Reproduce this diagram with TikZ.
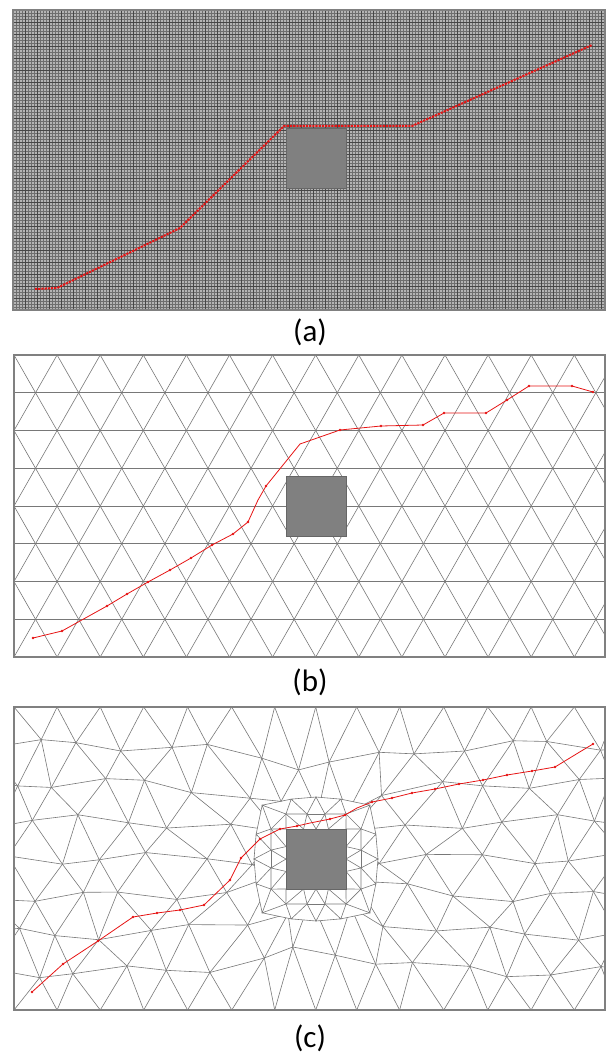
\documentclass[tikz,border=0pt]{standalone}
\usepackage{fontspec}
\newfontfamily\capfont{Carlito}
\usepackage{tikz}
\usetikzlibrary{positioning}

\definecolor{meshgray}{RGB}{120,120,120}
\definecolor{framegray}{RGB}{128,128,128}
\definecolor{obsgray}{RGB}{128,128,128}
\definecolor{gridbase}{RGB}{180,180,180}
\definecolor{gridfine}{RGB}{110,110,110}
\definecolor{gridcoarse}{RGB}{70,70,70}
\definecolor{pathred}{RGB}{230,20,20}

\begin{document}
\begin{tikzpicture}[x=1pt, y=-1pt,
    meshline/.style={draw=meshgray, line width=0.6pt},
    framebox/.style={draw=framegray, line width=2.5pt},
    finegrid/.style={draw=gridfine, line width=0.6pt},
    coarsegrid/.style={draw=gridcoarse, line width=0.5pt},
    obstacle/.style={rectangle, fill=obsgray, draw=obsgray!80!black, line width=0.5pt, inner sep=0pt, minimum width=60pt, minimum height=60pt},
    pathline/.style={draw=pathred, line width=0.8pt, line join=round},
    caption/.style={font=\capfont\fontsize{31}{36}\selectfont, inner sep=0pt}]

    \useasboundingbox (0,0) rectangle (609,1064);

    % Panel (a): dense structured grid
    \begin{scope}
        \fill[gridbase] (13,10) rectangle (605,310);
        \foreach \x in {13,16,...,604} \draw[finegrid] (\x,10) -- (\x,310);
        \foreach \y in {10,13,...,310} \draw[finegrid] (13,\y) -- (605,\y);
        \foreach \x in {25,37,...,604} \draw[coarsegrid] (\x,10) -- (\x,310);
        \foreach \y in {22,34,...,310} \draw[coarsegrid] (13,\y) -- (605,\y);
        \draw[framebox] (13,10) rectangle (605,310);

        \node[obstacle] (obsa) at (316,158) {};

        % grid path
        \draw[pathred, line width=2pt, dash pattern=on 2.2pt off 1pt]
            (35,289) -- (57,288) -- (180,228) -- (284,126) -- (412,126) -- (592,45);

        \node[caption] (capa) at (310,332) {(a)};
    \end{scope}

    % Panel (b): regular triangular mesh
    \begin{scope}
        \begin{scope}
            \clip (14,355) rectangle (605,657);
            \foreach \j in {1,...,7} \draw[meshline] (14,355+37.75*\j) -- (605,355+37.75*\j);
            \foreach \k in {-4,...,18} {
                \draw[meshline] (14+43.1*\k,355) -- ++(172.4,302);
                \draw[meshline] (14+43.1*\k,355) -- ++(-172.4,302);
            }
        \end{scope}
        \draw[framebox] (14,355) rectangle (605,657);

        \node[obstacle] (obsb) at (316,506) {};

        % mesh path
        \draw[pathline] (33,638) -- (62,631) -- (107,606) -- (127,594) -- (148,582)
            -- (170,570) -- (191,558) -- (212,545) -- (233,534) -- (248,522)
            -- (258,500) -- (266,486) -- (300,444) -- (340,430) -- (381,426)
            -- (423,425) -- (444,413) -- (486,413) -- (507,400) -- (529,386)
            -- (572,386) -- (593,392);
        \foreach \p in {(33,638),(62,631),(107,606),(127,594),(148,582),(170,570),(191,558),(212,545),(233,534),(248,522),(266,486),(340,430),(381,426),(423,425),(444,413),(486,413),(507,400),(529,386),(572,386),(593,392)}
            \fill[pathred] \p circle (1.3pt);

        \node[caption] (capb) at (310,682) {(b)};
    \end{scope}

    % Panel (c): mesh refined around the obstacle
    \begin{scope}
        % mesh points, pulled towards the obstacle
        \foreach \j in {0,...,8} {
            \foreach \i in {-1,...,14} {
                \pgfmathsetmacro\xo{14+43.1*(\i+0.5*mod(\j,2))}
                \pgfmathsetmacro\yo{707+37.875*\j}
                \pgfmathsetmacro\dx{(\xo-316)/95}
                \pgfmathsetmacro\dy{(\yo-859)/95}
                \pgfmathsetmacro\e{0.75*exp(-(\dx*\dx+\dy*\dy))}
                \pgfmathsetmacro\jx{((\j==0)||(\j==8)) ? 0 : 6*sin(137*\i+71*\j)}
                \pgfmathsetmacro\jy{((\j==0)||(\j==8)) ? 0 : 6*cos(97*\i+151*\j)}
                \pgfmathsetmacro\xn{\xo-95*\dx*\e+\jx}
                \pgfmathsetmacro\yn{((\j==0)||(\j==8)) ? \yo : \yo-95*\dy*\e+\jy}
                \coordinate (m-\i-\j) at (\xn,\yn);
            }
        }
        % refined rings round the obstacle
        \foreach \k in {0,...,15} {
            \pgfmathsetmacro\ang{22.5*\k}
            \pgfmathsetmacro\nrm{max(abs(cos(\ang)),abs(sin(\ang)))}
            \coordinate (r0-\k) at ({316+30*cos(\ang)/\nrm},{859+30*sin(\ang)/\nrm});
            \pgfmathsetmacro\angb{22.5*\k+11.25}
            \pgfmathsetmacro\nrmb{max(abs(cos(\angb)),abs(sin(\angb)))}
            \coordinate (r1-\k) at ({316+45*cos(\angb)/\nrmb},{859+45*sin(\angb)/\nrmb});
            \pgfmathsetmacro\rad{62*(0.45+0.55/\nrm)}
            \coordinate (r2-\k) at ({316+\rad*cos(\ang)},{859+\rad*sin(\ang)});
        }
        \begin{scope}
            \clip (14,707) rectangle (605,1010);
            \begin{scope}[even odd rule]
                \clip (14,707) rectangle (605,1010)
                    (r2-0) \foreach \k in {1,...,15} { -- (r2-\k) } -- cycle;
                \foreach \j in {0,...,8} {
                    \foreach \i in {-1,...,13} {
                        \pgfmathtruncatemacro\inext{\i+1}
                        \draw[meshline] (m-\i-\j) -- (m-\inext-\j);
                    }
                }
                \foreach \j in {0,...,7} {
                    \pgfmathtruncatemacro\jnext{\j+1}
                    \foreach \i in {-1,...,14} {
                        \pgfmathtruncatemacro\ia{\i-1+mod(\j,2)}
                        \pgfmathtruncatemacro\ib{\i+mod(\j,2)}
                        \ifnum\ia>-2 \draw[meshline] (m-\i-\j) -- (m-\ia-\jnext); \fi
                        \ifnum\ib<15 \draw[meshline] (m-\i-\j) -- (m-\ib-\jnext); \fi
                    }
                }
            \end{scope}
            \foreach \k in {0,...,15} {
                \pgfmathtruncatemacro\knext{mod(\k+1,16)}
                \draw[meshline] (r0-\k) -- (r1-\k) -- (r0-\knext);
                \draw[meshline] (r1-\k) -- (r1-\knext);
                \draw[meshline] (r1-\k) -- (r2-\knext) -- (r2-\k) -- cycle;
            }
        \end{scope}
        \draw[framebox] (14,707) rectangle (605,1010);

        \node[obstacle] (obsc) at (316,859) {};

        % mesh path
        \draw[pathline] (32,992) -- (63,964) -- (98,941) -- (133,917) -- (157,913)
            -- (180,910) -- (204,905) -- (230,880) -- (241,858) -- (260,839)
            -- (280,829) -- (297,826) -- (310,823) -- (330,819) -- (345,815)
            -- (357,808) -- (372,802) -- (392,798) -- (412,793) -- (435,789)
            -- (459,784) -- (483,780) -- (507,775) -- (532,771) -- (555,767)
            -- (578,753) -- (593,744);
        \foreach \p in {(32,992),(63,964),(98,941),(133,917),(157,913),(180,910),(204,905),(230,880),(241,858),(260,839),(280,829),(297,826),(330,819),(345,815),(372,802),(392,798),(412,793),(435,789),(459,784),(483,780),(507,775),(532,771),(555,767),(593,744)}
            \fill[pathred] \p circle (1.3pt);

        \node[caption] (capc) at (310,1038) {(c)};
    \end{scope}

\end{tikzpicture}
\end{document}
